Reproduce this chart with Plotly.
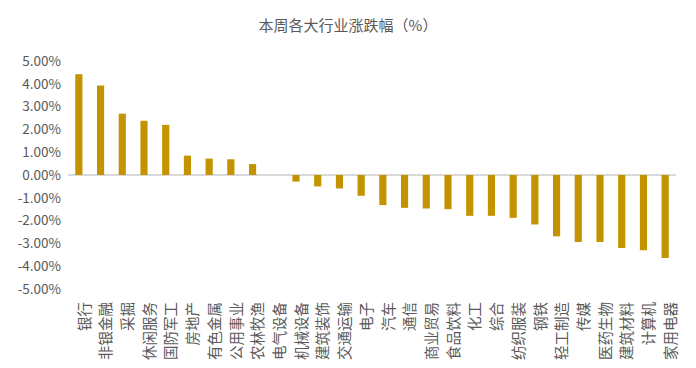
import plotly.graph_objects as go

categories = ["银行", "非银金融", "采掘", "休闲服务", "国防军工", "房地产", "有色金属", "公用事业", "农林牧渔",
              "电气设备", "机械设备", "建筑装饰", "交通运输", "电子", "汽车", "通信", "商业贸易", "食品饮料",
              "化工", "综合", "纺织服装", "钢铁", "轻工制造", "传媒", "医药生物", "建筑材料", "计算机", "家用电器"]
values = [4.42, 3.92, 2.69, 2.38, 2.20, 0.85, 0.72, 0.69, 0.48,
          0.00, -0.29, -0.50, -0.59, -0.91, -1.32, -1.44, -1.47, -1.50,
          -1.79, -1.79, -1.88, -2.17, -2.69, -2.94, -2.94, -3.20, -3.30, -3.64]
y_ticks = [5, 4, 3, 2, 1, 0, -1, -2, -3, -4, -5]

font_family = "Noto Sans CJK SC, Noto Sans, sans-serif"
text_color = "#595959"

fig = go.Figure(go.Bar(x=categories, y=values, marker=dict(color="#C39300", line=dict(width=0)),
                       width=0.33))

fig.update_layout(
    width=696, height=368,
    margin=dict(l=68, r=20, t=61, b=79, autoexpand=False),
    paper_bgcolor="white", plot_bgcolor="white",
    title=dict(text="本周各大行业涨跌幅（%）", x=0.5, xanchor="center", y=0.93, yanchor="middle",
               font=dict(family=font_family, size=15, color=text_color)),
    font=dict(family=font_family, size=13, color=text_color),
    showlegend=False,
)
fig.update_xaxes(tickangle=-90, showgrid=False, showline=False, ticks="", automargin=False,
                 ticklabelstandoff=9, ticklabelshift=6,
                 tickfont=dict(size=14.5, color=text_color), range=[-0.5, len(categories) - 0.5])
fig.update_yaxes(range=[-5, 5], tickvals=y_ticks, ticktext=[f"{v:.2f}%" for v in y_ticks],
                 showgrid=False, zeroline=True, zerolinecolor="#d9d9d9", zerolinewidth=2,
                 showline=False, automargin=False, ticklabelstandoff=6,
                 tickfont=dict(size=13.5, color=text_color))

fig.write_html("out.html", config={"displayModeBar": False},
               post_script="document.body.style.margin='0';document.body.style.overflow='hidden';")
